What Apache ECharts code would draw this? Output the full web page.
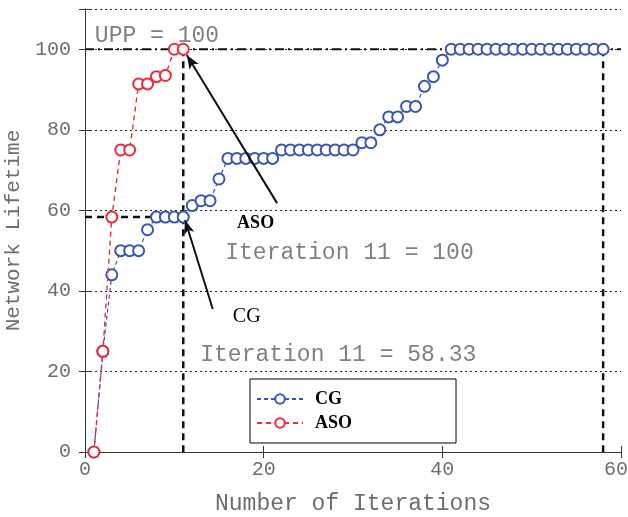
<!DOCTYPE html>
<html>
<head>
<meta charset="utf-8">
<script src="https://cdn.jsdelivr.net/npm/echarts@6/dist/echarts.min.js"></script>
<style>html,body{margin:0;padding:0;background:#fff}#c{width:628px;height:517px}</style>
</head>
<body>
<div id="c"></div>
<script>
// ---- data ----
const cgX = [];
for (let i = 1; i <= 58; i++) cgX.push(i);
const cgY = [0, 25, 44, 50, 50, 50, 55.2, 58.33, 58.33, 58.33, 58.33, 61.2, 62.4, 62.4, 67.8, 72.9,
  72.9, 72.9, 72.9, 72.9, 72.9, 75, 75, 75, 75, 75, 75, 75, 75, 75, 76.8, 76.8, 80, 83.2, 83.2,
  85.8, 85.8, 90.8, 93.2, 97.3,
  100, 100, 100, 100, 100, 100, 100, 100, 100, 100, 100, 100, 100, 100, 100, 100, 100, 100];
const asoX = [1, 2, 3, 4, 5, 6, 7, 8, 9, 10, 11];
const asoY = [0, 25, 58.33, 75, 75, 91.4, 91.4, 93.2, 93.5, 100, 100];
const xTicks = [0, 20, 40, 60];
const yTicks = [0, 20, 40, 60, 80, 100];
const uppLine = [[0, 100], [60, 100]];
const iterVLine = [[11, 100], [11, 0]];
const iterHLine = [[0, 58.33], [11, 58.33]];
const endVLine = [[58, 100], [58, 0]];
const arrowASO = [[21.5, 61.8], [11.4, 98.6]];
const arrowCG = [[14.3, 35.5], [11.2, 57.6]];

const mono = 'Liberation Mono';
const serif = 'Liberation Serif';
const greyTxt = '#808080';

const chart = echarts.init(document.getElementById('c'), null, {renderer: 'canvas'});

function pairs(xs, ys) { return xs.map((x, i) => [x, ys[i]]); }

const refStyle = (type, w) => ({
  type: 'line', showSymbol: false, symbol: 'none', silent: true, z: 3,
  lineStyle: {color: '#111', width: w, type: type}, animation: false
});

const option = {
  animation: false,
  grid: {left: 85, right: 7, top: 9, bottom: 65, containLabel: false, outerBoundsMode: 'none'},
  xAxis: [{
    type: 'value', min: 0, max: 60, interval: 20,
    axisLine: {show: true, lineStyle: {color: '#333', width: 1}},
    axisTick: {show: true, inside: true, length: 6, lineStyle: {color: '#333'}},
    axisLabel: {color: '#6e6e6e', fontFamily: mono, fontSize: 20, margin: 8,
      formatter: v => xTicks.includes(v) ? (v === 60 ? '{r|60}' : String(v)) : '',
      rich: {r: {fontFamily: mono, fontSize: 20, color: '#6e6e6e', padding: [0, 10, 0, 0]}}},
    splitLine: {show: false},
    name: 'Number of Iterations', nameLocation: 'middle', nameGap: 40,
    nameTextStyle: {color: '#6e6e6e', fontFamily: mono, fontSize: 23}
  }, {
    type: 'value', position: 'top', min: 0, max: 60, interval: 20,
    axisLine: {show: true, lineStyle: {color: '#333', width: 1}},
    axisTick: {show: true, inside: true, length: 6, lineStyle: {color: '#333'}},
    axisLabel: {show: false}, splitLine: {show: false}
  }],
  yAxis: [{
    type: 'value', min: 0, max: 110, interval: 20,
    axisLine: {show: true, lineStyle: {color: '#333', width: 1}},
    axisTick: {show: true, inside: true, length: 6, lineStyle: {color: '#333'}},
    axisLabel: {color: '#6e6e6e', fontFamily: mono, fontSize: 20, margin: 14,
      formatter: v => yTicks.includes(v) ? String(v) : ''},
    splitLine: {show: true, lineStyle: {color: '#222', width: 1, type: [2, 3]}},
    name: 'Network Lifetime', nameLocation: 'middle', nameGap: 52,
    nameTextStyle: {color: '#6e6e6e', fontFamily: mono, fontSize: 21}
  }, {
    type: 'value', position: 'right', min: 0, max: 110, interval: 20,
    axisLine: {show: true, lineStyle: {color: '#333', width: 1}},
    axisTick: {show: true, inside: true, length: 6, lineStyle: {color: '#333'}},
    axisLabel: {show: false}, splitLine: {show: false}
  }],
  legend: {
    data: ['CG', 'ASO'], orient: 'vertical', left: 250, top: 379,
    itemWidth: 46, itemHeight: 12, itemGap: 6,
    backgroundColor: '#fff', borderColor: '#000', borderWidth: 1,
    padding: [11, 104, 11, 6],
    textStyle: {fontFamily: serif, fontWeight: 'bold', fontSize: 18, color: '#000', padding: [0, 0, 0, 7]}
  },
  series: [
    Object.assign(refStyle([9, 4, 2, 4], 2), {data: uppLine}),
    Object.assign(refStyle([7, 5], 2.5), {data: iterVLine}),
    Object.assign(refStyle([7, 5], 2.5), {data: iterHLine}),
    Object.assign(refStyle([7, 5], 2.5), {data: endVLine}),
    {
      name: 'CG', type: 'line', data: pairs(cgX, cgY), z: 4,
      symbol: 'emptyCircle', symbolSize: 11, showSymbol: true,
      lineStyle: {color: '#3b55b3', width: 1.2, type: [4, 3]},
      itemStyle: {color: '#3b55b3', borderColor: '#3b55b3', borderWidth: 1.6}
    },
    {
      name: 'ASO', type: 'line', data: pairs(asoX, asoY), z: 5,
      symbol: 'emptyCircle', symbolSize: 11, showSymbol: true,
      lineStyle: {color: '#ee2b3b', width: 1.4, type: [5, 4]},
      itemStyle: {color: '#ee2b3b', borderColor: '#ee2b3b', borderWidth: 1.8}
    },
    {
      type: 'line', data: [], silent: true, z: 6,
      markLine: {
        silent: true, animation: false,
        symbol: ['none', 'arrow'], symbolSize: [8, 14],
        label: {show: false},
        lineStyle: {color: '#111', width: 2, type: 'solid'},
        data: [
          [{coord: arrowASO[0]}, {coord: arrowASO[1]}],
          [{coord: arrowCG[0]}, {coord: arrowCG[1]}]
        ]
      }
    }
  ]
};
chart.setOption(option);

function px(pt) { return chart.convertToPixel({xAxisIndex: 0, yAxisIndex: 0}, pt); }
const notes = [
  {text: 'UPP = 100', at: [1.1, 103.3], font: mono, size: 23, weight: 'normal', color: greyTxt, align: 'left'},
  {text: 'Iteration 11 = 100', at: [15.7, 49.4], font: mono, size: 23, weight: 'normal', color: greyTxt, align: 'left'},
  {text: 'Iteration 11 = 58.33', at: [12.9, 24.1], font: mono, size: 23, weight: 'normal', color: greyTxt, align: 'left'},
  {text: 'ASO', at: [19.1, 56.8], font: serif, size: 18, weight: 'bold', color: '#000', align: 'center'},
  {text: 'CG', at: [18.1, 33.7], font: serif, size: 20, weight: 'normal', color: '#000', align: 'center'}
];
chart.setOption({
  graphic: notes.map(n => {
    const p = px(n.at);
    return {
      type: 'text', x: p[0], y: p[1], z: 10, silent: true,
      style: {text: n.text, fontFamily: n.font, fontSize: n.size, fontWeight: n.weight,
        fill: n.color, align: n.align, verticalAlign: 'middle'}
    };
  })
});
</script>
</body>
</html>
